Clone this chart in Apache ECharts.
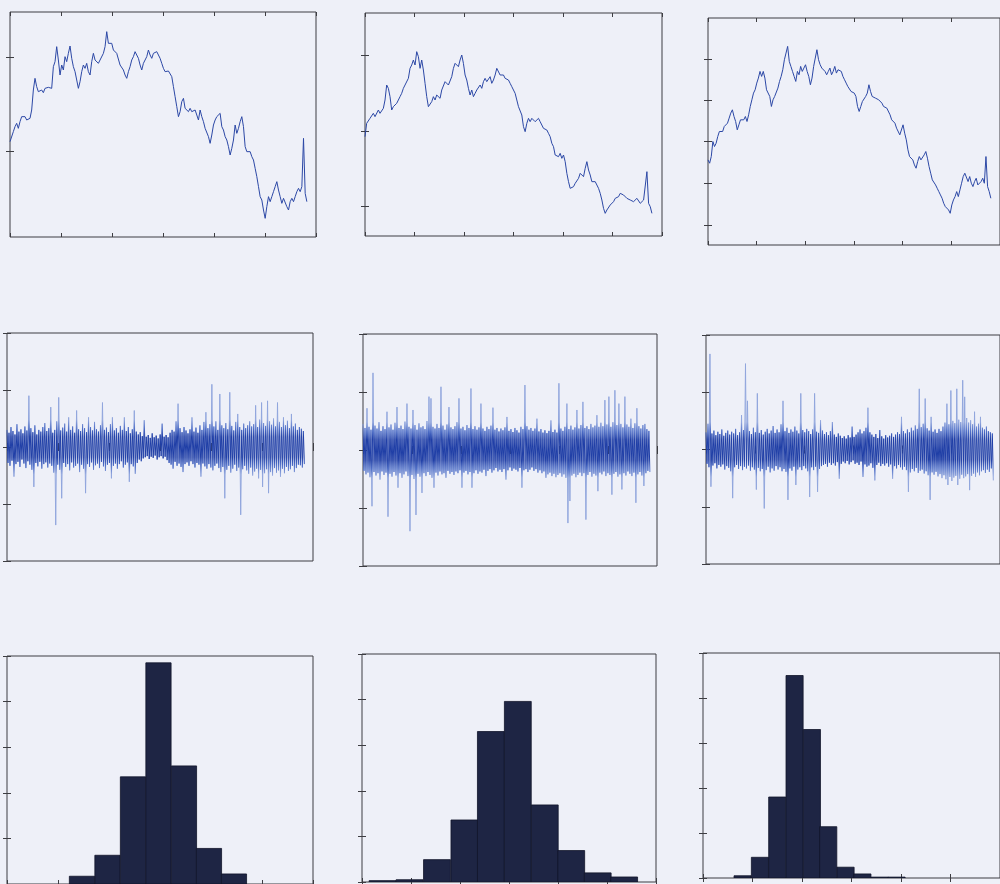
<!DOCTYPE html>
<html>
<head>
<meta charset="utf-8">
<script src="https://cdn.jsdelivr.net/npm/echarts@6/dist/echarts.min.js"></script>
<style>
  html, body { margin: 0; padding: 0; background: #eef0f8; }
  #chart { width: 1000px; height: 884px; }
</style>
</head>
<body>
<div id="chart"></div>
<script>
// ---- Price paths (one value per sample) ----
const priceA = [
  33.5,33,36.5,38,39,37.5,39.5,41,41.5,41,
  40,39.5,40.5,43,49,52.5,50,48.5,48,49,
  48.2,49.5,49,49.8,50.2,49.5,56,57.5,62,58,
  53.5,56.5,55,59,57.5,60,62.2,58.5,56,54.5,
  52,49.5,51.5,54.5,56.5,55.5,57,54.5,53.5,57.5,
  60,58,58.5,57,58,58.5,60,62,66.5,63,
  62.5,63,61,61.5,60,59.5,56.5,56,55,53.5,
  52.5,54.5,56,58,59,60.5,59.5,58.5,56.5,55,
  57,56.5,59,61,59.5,58.5,60,60,60.5,59.5,
  58.5,57,55.5,54.5,55,54.7,54.5,53,50,47,
  44,41,42.5,45.5,46.5,43.5,44,42.5,43.5,42.5,
  42,43,41.5,40,43,41,39.5,37.5,38,35,
  33,35.5,38.5,40,41,41.5,42,38,37,35,
  34,32,29.5,31.5,34,38.5,36,37.5,39.5,41,
  38,32,30.5,30,30.5,29,28,25.5,23,20,
  17,16,13,10.5,14,17,15.5,17,18.5,20,
  21.5,19,17,15,16.5,16,14,13,15.5,16.5,
  15.5,17,18.5,19.5,18.5,20,34.5,18,15.5
];
const priceB = [
  35,39,39.5,40.5,40,42,41,41.5,43,42,
  42.5,43.5,46,50.5,49.5,47,43,44,43.5,45,
  46,47,48,49.5,50.5,51,52.5,55.5,56.5,58,
  56.5,60.5,59,55.5,58,55,51,47,44,43.5,
  45.5,47,46,47.5,48,46.5,49,49.5,51.5,52,
  50.5,51,53,55.5,57,57.5,56,58,59.5,57,
  53.5,52,49.5,47.5,49,47,48,49,49.5,50.5,
  49.5,51.5,52.5,51.5,52,53,51,52,53.5,55.5,
  55,53.5,54,53.5,52.5,53,52,51,50,49.5,
  48,46,44,43.5,41.5,38,36.5,39,40.5,39.5,
  40.5,40,39.5,39,40.5,39.5,39,37.5,38,37,
  36,35,33,32,29.5,29,29,30,28.5,29.5,
  27.5,24,21.5,19.5,19.5,20,21,21.5,22.5,24,
  23.5,23,25.5,27.5,25,23.5,21.5,22,21.5,21,
  19.5,18,16,13.5,12,13,12.5,14.5,15,15.5,
  16.5,16,17,18,18.5,17.5,17,16.5,17,16,
  16.5,15.5,15,16.5,16,15,15.5,16,16.5,24.5,
  15,14,12
];
const priceC = [
  30,29,31,35.5,34,35,37,38.5,38,38.5,
  40,40.5,41,42.5,44,45,43,41.5,39,40.5,
  42,42.5,42,43,41.5,43.5,46,48,50,51,
  53,54.5,56.5,55,56.5,54.5,51,50.5,49,46,
  48,49,48.5,51.5,53.5,55,57,60,62,64,
  59.5,58,56.5,55,53.5,56.5,55.5,58,56.5,57.5,
  58.5,56.5,55,52.5,54.5,58,60.5,63,60,58.5,
  57.5,58,56.5,55.5,56.5,57.5,55.5,56.5,58,56,
  57,57.5,56.5,55,54,53,52,51.5,50.5,51,
  50,49,46,44.5,46,47.5,48,49,50,52.5,
  50.5,49,49.5,48.5,49,48,47.5,47,46,46.5,
  45.5,46,43.5,42,41.5,41,39.5,40,37.5,37,
  40.5,38,36,33,31,30.5,30,28.5,27.5,29.5,
  31,30,30.5,31.5,32.5,30.5,28,26,24,23.5,
  22.5,21.5,20.5,19.5,18.5,17,16,16.5,15,14,
  16.5,18,19,20.5,19,21,23,25,26,25.5,
  23.5,25,23,22,23.5,24.5,22.5,22,23.5,24.5,
  23,31,22,20.5,18.5
];
const priceTicksA = [30.7, 58.9];
const priceTicksB = [14, 36.5, 59.5];
const priceTicksC = [10.5, 23, 35.5, 48, 60.2];

// ---- Returns: upper and lower swing per sample window ----
const retHiA = [
  0.30,0.25,0.35,0.28,0.22,0.40,0.27,0.31,0.24,0.36,
  0.29,0.90,0.33,0.26,0.38,0.22,0.30,0.27,0.35,0.42,
  0.28,0.33,0.70,0.25,0.30,0.45,0.87,0.29,0.34,0.41,
  0.27,0.52,0.30,0.36,0.25,0.64,0.31,0.28,0.40,0.33,
  0.26,0.52,0.35,0.29,0.44,0.31,0.27,0.38,0.78,0.30,
  0.34,0.26,0.40,0.52,0.29,0.33,0.25,0.37,0.30,0.52,
  0.28,0.35,0.24,0.31,0.64,0.27,0.22,0.26,0.19,0.47,
  0.18,0.21,0.16,0.24,0.17,0.20,0.15,0.22,0.41,0.18,
  0.21,0.17,0.25,0.30,0.27,0.45,0.76,0.33,0.26,0.35,
  0.29,0.24,0.31,0.52,0.27,0.34,0.25,0.38,0.30,0.44,
  0.61,0.33,0.40,1.10,0.36,0.45,0.30,0.93,0.38,0.33,
  0.42,0.31,0.96,0.37,0.29,0.44,0.58,0.35,0.30,0.41,
  0.33,0.38,0.45,0.36,0.40,0.73,0.35,0.48,0.78,0.42,
  0.37,0.81,0.45,0.39,0.50,0.36,0.78,0.44,0.35,0.52,
  0.38,0.46,0.33,0.58,0.36,0.41,0.30,0.35,0.32,0.28
];
const retLoA = [
  -0.28,-0.33,-0.24,-0.52,-0.30,-0.26,-0.35,-0.22,-0.29,-0.37,
  -0.25,-0.31,-0.40,-0.70,-0.28,-0.34,-0.26,-0.38,-0.30,-0.27,
  -0.36,-0.29,-0.33,-0.45,-1.37,-0.31,-0.40,-0.90,-0.28,-0.35,
  -0.30,-0.41,-0.27,-0.36,-0.33,-0.29,-0.44,-0.31,-0.38,-0.81,
  -0.30,-0.35,-0.27,-0.40,-0.32,-0.29,-0.37,-0.26,-0.34,-0.42,
  -0.31,-0.28,-0.55,-0.33,-0.29,-0.38,-0.30,-0.25,-0.36,-0.31,
  -0.27,-0.61,-0.30,-0.34,-0.47,-0.28,-0.22,-0.25,-0.20,-0.18,
  -0.16,-0.21,-0.17,-0.19,-0.15,-0.22,-0.18,-0.16,-0.20,-0.17,
  -0.23,-0.28,-0.31,-0.38,-0.26,-0.33,-0.29,-0.35,-0.44,-0.30,
  -0.27,-0.33,-0.25,-0.30,-0.36,-0.28,-0.31,-0.52,-0.29,-0.34,
  -0.38,-0.30,-0.36,-0.41,-0.33,-0.29,-0.37,-0.44,-0.35,-0.90,
  -0.40,-0.33,-0.45,-0.38,-0.31,-0.42,-0.36,-1.19,-0.39,-0.33,
  -0.41,-0.47,-0.36,-0.50,-0.43,-0.38,-0.55,-0.40,-0.70,-0.46,
  -0.39,-0.81,-0.44,-0.50,-0.37,-0.45,-0.41,-0.52,-0.38,-0.46,
  -0.35,-0.42,-0.39,-0.33,-0.44,-0.37,-0.31,-0.32,-0.36,-0.30
];
const retHiB = [
  0.45,0.38,0.72,0.40,0.35,1.33,0.42,0.37,0.48,0.33,
  0.41,0.36,0.66,0.39,0.44,0.35,0.47,0.74,0.38,0.42,
  0.36,0.49,0.80,0.40,0.37,0.69,0.43,0.35,0.46,0.39,
  0.41,0.36,0.50,0.92,0.89,0.40,0.37,0.45,0.38,1.09,
  0.42,0.35,0.44,0.74,0.39,0.36,0.41,0.48,0.89,0.37,
  0.40,0.34,0.43,0.38,1.06,0.36,0.41,0.35,0.39,0.80,
  0.37,0.33,0.40,0.36,0.42,0.73,0.35,0.38,0.32,0.37,
  0.34,0.39,0.57,0.33,0.36,0.31,0.38,0.34,0.30,0.40,
  0.36,1.12,0.41,0.35,0.38,0.33,0.37,0.54,0.32,0.36,
  0.30,0.34,0.29,0.33,0.51,0.31,0.35,0.30,1.15,0.37,
  0.33,0.40,0.80,0.36,0.42,0.35,0.39,0.69,0.37,0.43,
  0.83,0.38,0.41,0.36,0.45,0.39,0.42,0.60,0.40,0.47,
  0.41,0.86,0.44,0.92,0.40,0.48,1.03,0.43,0.80,0.45,
  0.39,0.92,0.44,0.40,0.54,0.38,0.46,0.72,0.41,0.37,
  0.43,0.45,0.36,0.33
];
const retLoB = [
  -0.36,-0.42,-0.39,-0.47,-0.97,-0.38,-0.44,-0.40,-0.51,-0.37,
  -0.43,-0.39,-1.15,-0.41,-0.46,-0.38,-0.44,-0.65,-0.40,-0.48,
  -0.42,-0.37,-0.45,-1.40,-0.43,-0.50,-1.12,-0.41,-0.46,-0.74,
  -0.40,-0.45,-0.38,-0.43,-0.48,-0.65,-0.39,-0.44,-0.37,-0.42,
  -0.40,-0.48,-0.36,-0.41,-0.38,-0.43,-0.37,-0.40,-0.35,-0.65,
  -0.39,-0.36,-0.42,-0.38,-0.65,-0.40,-0.35,-0.41,-0.37,-0.39,
  -0.34,-0.45,-0.36,-0.33,-0.39,-0.35,-0.31,-0.37,-0.34,-0.38,
  -0.33,-0.51,-0.35,-0.30,-0.36,-0.32,-0.34,-0.37,-0.31,-0.65,
  -0.35,-0.33,-0.38,-0.34,-0.30,-0.36,-0.33,-0.39,-0.35,-0.40,
  -0.37,-0.48,-0.42,-0.39,-0.45,-0.41,-0.47,-0.43,-0.40,-0.46,
  -0.42,-0.48,-1.26,-0.88,-0.44,-0.41,-0.47,-0.43,-0.39,-0.45,
  -0.40,-1.20,-0.43,-0.38,-0.46,-0.41,-0.44,-0.71,-0.39,-0.42,
  -0.37,-0.45,-0.40,-0.43,-0.77,-0.41,-0.38,-0.46,-0.42,-0.68,
  -0.40,-0.44,-0.37,-0.41,-0.45,-0.39,-0.91,-0.42,-0.38,-0.44,
  -0.62,-0.40,-0.36,-0.38
];
const retHiC = [
  0.30,0.45,1.67,0.28,0.33,0.25,0.31,0.27,0.35,0.24,
  0.29,0.33,0.26,0.31,0.28,0.36,0.25,0.30,0.60,0.34,
  1.50,0.85,0.32,0.27,0.38,0.30,0.98,0.29,0.34,0.26,
  0.31,0.36,0.28,0.33,0.41,0.29,0.35,0.30,0.44,0.85,
  0.32,0.38,0.29,0.35,0.31,0.40,0.33,0.28,0.98,0.34,
  0.30,0.36,0.32,0.27,0.35,0.98,0.31,0.29,0.51,0.33,
  0.27,0.30,0.25,0.32,0.48,0.26,0.22,0.28,0.24,0.20,
  0.23,0.19,0.25,0.21,0.40,0.22,0.26,0.30,0.35,0.28,
  0.32,0.38,0.73,0.30,0.26,0.22,0.27,0.20,0.34,0.23,
  0.19,0.25,0.21,0.24,0.28,0.22,0.26,0.30,0.27,0.57,
  0.32,0.28,0.35,0.30,0.38,0.33,0.42,0.36,1.06,0.39,
  0.45,0.89,0.37,0.33,0.57,0.31,0.35,0.29,0.36,0.32,
  0.40,0.47,0.80,0.44,1.03,0.50,0.46,1.06,0.52,0.48,
  1.21,0.92,0.55,0.47,0.51,0.44,0.66,0.40,0.45,0.57,
  0.38,0.35,0.40,0.32,0.30,0.28
];
const retLoC = [
  -0.25,-0.31,-0.65,-0.28,-0.24,-0.33,-0.27,-0.30,-0.26,-0.35,
  -0.29,-0.32,-0.38,-0.85,-0.31,-0.27,-0.34,-0.29,-0.36,-0.30,
  -0.33,-0.28,-0.37,-0.31,-0.35,-0.70,-0.32,-0.38,-0.34,-1.03,
  -0.36,-0.30,-0.40,-0.33,-0.37,-0.29,-0.35,-0.31,-0.38,-0.34,
  -0.39,-0.88,-0.33,-0.37,-0.30,-0.62,-0.35,-0.31,-0.36,-0.29,
  -0.33,-0.38,-0.83,-0.31,-0.36,-0.30,-0.74,-0.34,-0.29,-0.27,
  -0.25,-0.30,-0.23,-0.27,-0.24,-0.28,-0.22,-0.51,-0.25,-0.21,
  -0.24,-0.20,-0.26,-0.22,-0.19,-0.25,-0.23,-0.27,-0.21,-0.48,
  -0.26,-0.30,-0.28,-0.24,-0.32,-0.54,-0.27,-0.23,-0.29,-0.25,
  -0.28,-0.24,-0.30,-0.26,-0.51,-0.29,-0.33,-0.27,-0.31,-0.35,
  -0.30,-0.36,-0.74,-0.40,-0.34,-0.38,-0.32,-0.41,-0.37,-0.35,
  -0.42,-0.38,-0.45,-0.88,-0.40,-0.44,-0.39,-0.47,-0.43,-0.50,
  -0.45,-0.52,-0.62,-0.48,-0.55,-0.49,-0.46,-0.62,-0.51,-0.44,
  -0.50,-0.47,-0.43,-0.71,-0.46,-0.42,-0.48,-0.40,-0.45,-0.38,
  -0.36,-0.41,-0.35,-0.39,-0.33,-0.54
];

// ---- Histograms of returns: bin centres and frequencies ----
const binCentresA = [1.47, 1.97, 2.47, 2.97, 3.47, 3.96, 4.45];
const binCountsA  = [0.17, 0.63, 2.35, 4.85, 2.59, 0.78, 0.22];
const binWidthA = 0.495;
const binCentresB = [0.42, 0.97, 1.53, 2.09, 2.63, 3.18, 3.73, 4.27, 4.81, 5.35];
const binCountsB  = [0.03, 0.05, 0.49, 1.36, 3.30, 3.96, 1.69, 0.69, 0.20, 0.11];
const binWidthB = 0.548;
const binCentresC = [0.80, 1.15, 1.50, 1.85, 2.20, 2.53, 2.88, 3.22, 3.57, 3.91];
const binCountsC  = [0.05, 0.46, 1.80, 4.50, 3.30, 1.14, 0.24, 0.09, 0.02, 0.02];
const binWidthC = 0.346;

// ---- styling ----
const PAPER = '#eef0f8';
const FRAME = '#3d3d42';
const LINE_BLUE = '#2c48a6';
const NOISE_DARK = '#1f3ea6';
const NOISE_MID = '#4d6dc6';
const NOISE_LIGHT = '#91a6dd';
const BAR_FILL = '#1e2544';
const BAR_EDGE = '#10142a';

// panel boxes: [left, top, width, height]
const panels = [
  { box: [10, 12, 306, 225],  kind: 'price', values: priceA, step: 32.7, y: [4.9, 72.4], ticks: priceTicksA },
  { box: [365, 13, 297, 223], kind: 'price', values: priceB, step: 33.7, y: [5.2, 72.1], ticks: priceTicksB },
  { box: [708, 18, 299, 227], kind: 'price', values: priceC, step: 33.4, y: [4.5, 72.5], ticks: priceTicksC },
  { box: [7, 333, 306, 228],  kind: 'noise', hi: retHiA, lo: retLoA, step: 39.0 },
  { box: [363, 334, 294, 232], kind: 'noise', hi: retHiB, lo: retLoB, step: 40.8 },
  { box: [706, 335, 298, 229], kind: 'noise', hi: retHiC, lo: retLoC, step: 40.3 },
  { box: [7, 656, 306, 230],  kind: 'hist', centres: binCentresA, counts: binCountsA, width: binWidthA },
  { box: [362, 654, 294, 228], kind: 'hist', centres: binCentresB, counts: binCountsB, width: binWidthB },
  { box: [703, 653, 358, 225], kind: 'hist', centres: binCentresC, counts: binCountsC, width: binWidthC }
];

const tickStyle = { show: true, inside: true, length: 4, lineStyle: { color: FRAME, width: 1 } };
function baseAxis(gridIndex, position, extra) {
  return Object.assign({
    type: 'value', gridIndex, position,
    axisLine: { show: false },
    axisTick: tickStyle,
    axisLabel: { show: false },
    splitLine: { show: false }
  }, extra);
}

// vertical shading: dense dark core around zero, paler long swings
function noiseGradient(top, height) {
  return new echarts.graphic.LinearGradient(0, top, 0, top + height, [
    { offset: 0.00, color: NOISE_LIGHT },
    { offset: 0.38, color: NOISE_LIGHT },
    { offset: 0.42, color: NOISE_MID },
    { offset: 0.455, color: NOISE_DARK },
    { offset: 0.545, color: NOISE_DARK },
    { offset: 0.58, color: NOISE_MID },
    { offset: 0.62, color: NOISE_LIGHT },
    { offset: 1.00, color: NOISE_LIGHT }
  ], true);
}

const grid = [], xAxis = [], yAxis = [], series = [];

panels.forEach((p, k) => {
  const [left, top, width, height] = p.box;
  grid.push({ left, top, width, height, show: true, borderColor: FRAME, borderWidth: 1,
              backgroundColor: 'rgba(0,0,0,0)', containLabel: false });

  const xRange = p.kind === 'hist' ? { min: 0, max: 6, interval: 1 } : { min: 0, max: 6000, interval: 1000 };
  xAxis.push(baseAxis(k, 'bottom', xRange));
  xAxis.push(baseAxis(k, 'top', xRange));

  let yRange;
  if (p.kind === 'price') {
    yRange = { min: p.y[0], max: p.y[1],
               axisTick: Object.assign({}, tickStyle, { customValues: p.ticks }) };
  } else if (p.kind === 'noise') {
    yRange = { min: -2, max: 2, interval: 1 };
  } else {
    yRange = { min: 0, max: 5, interval: 1 };
  }
  yAxis.push(baseAxis(k, 'left', yRange));
  yAxis.push(baseAxis(k, 'right', yRange));

  const xi = 2 * k, yi = 2 * k;
  if (p.kind === 'price') {
    series.push({
      type: 'line', xAxisIndex: xi, yAxisIndex: yi, silent: true,
      showSymbol: false, symbol: 'none',
      data: p.values.map((v, i) => [i * p.step, v]),
      lineStyle: { color: LINE_BLUE, width: 1 }
    });
  } else if (p.kind === 'noise') {
    const pts = [];
    p.hi.forEach((h, i) => {
      pts.push([i * p.step, h]);
      if (i < p.lo.length) pts.push([i * p.step + p.step / 2, p.lo[i]]);
    });
    series.push({
      type: 'line', xAxisIndex: xi, yAxisIndex: yi, silent: true,
      showSymbol: false, symbol: 'none', data: pts,
      lineStyle: { color: noiseGradient(top, height), width: 1 }
    });
  } else {
    series.push({
      type: 'custom', xAxisIndex: xi, yAxisIndex: yi, silent: true, clip: true,
      data: p.centres.map((c, i) => [c - p.width / 2, c + p.width / 2, p.counts[i]]),
      renderItem(params, api) {
        const a = api.coord([api.value(0), api.value(2)]);
        const b = api.coord([api.value(1), 0]);
        return {
          type: 'rect',
          shape: { x: a[0], y: a[1], width: b[0] - a[0], height: b[1] - a[1] },
          style: { fill: BAR_FILL, stroke: BAR_EDGE, lineWidth: 0.8 }
        };
      }
    });
  }
});

const chart = echarts.init(document.getElementById('chart'), null, { renderer: 'canvas' });
chart.setOption({
  backgroundColor: PAPER,
  animation: false,
  grid, xAxis, yAxis, series
});
</script>
</body>
</html>
